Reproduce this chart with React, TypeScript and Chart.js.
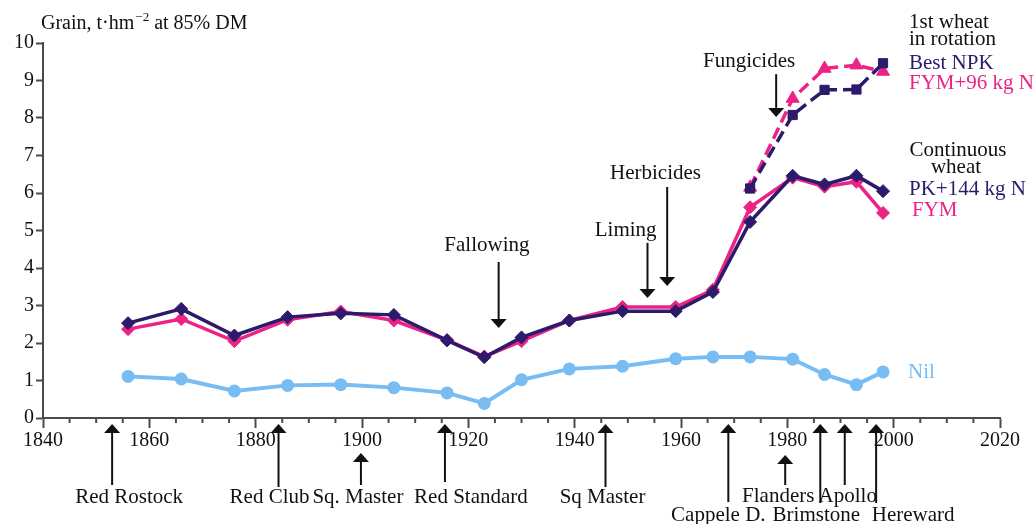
import React, { useEffect, useRef } from 'react';
import { Chart, registerables } from 'chart.js';
Chart.register(...registerables);

// ---------- data ----------
const years = [1856, 1866, 1876, 1886, 1896, 1906, 1916, 1923, 1930, 1939, 1949, 1959, 1966, 1973, 1981, 1987, 1993, 1998];
const pk144 = [2.53, 2.91, 2.2, 2.69, 2.79, 2.75, 2.07, 1.62, 2.15, 2.6, 2.85, 2.85, 3.36, 5.23, 6.46, 6.23, 6.46, 6.05];
const fym = [2.37, 2.64, 2.05, 2.62, 2.84, 2.6, 2.08, 1.64, 2.05, 2.6, 2.96, 2.96, 3.42, 5.62, 6.41, 6.17, 6.3, 5.47];
const nil = [1.11, 1.04, 0.72, 0.87, 0.89, 0.81, 0.67, 0.39, 1.02, 1.31, 1.38, 1.58, 1.63, 1.63, 1.57, 1.16, 0.89, 1.23];
const rotationYears = [1973, 1981, 1987, 1993, 1998];
const bestNPK = [6.12, 8.08, 8.75, 8.76, 9.46];
const fym96 = [6.15, 8.52, 9.32, 9.41, 9.24];

const managementEvents = ['Fallowing', 'Liming', 'Herbicides', 'Fungicides'];
const managementYears = [1925.7, 1953.7, 1957.4, 1977.9];

const varieties = ['Red Rostock', 'Red Club', 'Sq. Master', 'Red Standard', 'Sq Master', 'Cappele D.', 'Flanders', 'Brimstone', 'Apollo', 'Hereward'];
const varietyYears = [1853, 1884.3, 1899.8, 1915.6, 1945.8, 1968.9, 1979.6, 1986.2, 1990.8, 1996.7];

// ---------- layout / style ----------
const W = 1035;
const H = 524;
const FONT = '"Liberation Serif", "Times New Roman", serif';
const NAVY = '#2c1a6b';
const PINK = '#ec2385';
const BLUE = '#78bcf4';
const AXIS = '#4a4a4a';
const LABEL_SIZE = 21;

// top annotation geometry (value units): tail, tip, label x-year, label value
const mgmtLayout = [
  { tail: 4.16, tip: 2.4, lx: 1923.5, ly: 4.59 },
  { tail: 4.67, tip: 3.2, lx: 1949.6, ly: 4.99 },
  { tail: 6.16, tip: 3.52, lx: 1955.2, ly: 6.53 },
  { tail: 9.17, tip: 8.03, lx: 1972.8, ly: 9.52 },
];
// bottom annotation geometry (pixels below axis): tip, tail, label dx, label dy
const varLayout = [
  { tip: 6, tail: 67, dx: 17, ly: 79 },
  { tip: 6, tail: 69, dx: -9, ly: 79 },
  { tip: 35, tail: 67, dx: -3, ly: 79 },
  { tip: 6, tail: 64, dx: 26, ly: 79 },
  { tip: 6, tail: 69, dx: -3, ly: 79 },
  { tip: 6, tail: 84, dx: -10, ly: 97 },
  { tip: 37, tail: 67, dx: -7, ly: 78 },
  { tip: 6, tail: 85, dx: -4, ly: 97 },
  { tip: 6, tail: 67, dx: 3, ly: 78 },
  { tip: 6, tail: 85, dx: 37, ly: 97 },
];

function drawArrow(ctx: CanvasRenderingContext2D, x: number, tail: number, tip: number) {
  const dir = tip > tail ? 1 : -1;
  const hh = 9;
  const hw = 8;
  ctx.save();
  ctx.strokeStyle = '#111';
  ctx.fillStyle = '#111';
  ctx.lineWidth = 2;
  ctx.beginPath();
  ctx.moveTo(x, tail);
  ctx.lineTo(x, tip - dir * hh);
  ctx.stroke();
  ctx.beginPath();
  ctx.moveTo(x, tip);
  ctx.lineTo(x - hw, tip - dir * hh);
  ctx.lineTo(x + hw, tip - dir * hh);
  ctx.closePath();
  ctx.fill();
  ctx.restore();
}

const decorPlugin = {
  id: 'decor',
  afterDraw(chart: any) {
    const ctx: CanvasRenderingContext2D = chart.ctx;
    const xs = chart.scales.x;
    const ys = chart.scales.y;
    const area = chart.chartArea;
    ctx.save();
    // minor x ticks every 5 years
    ctx.strokeStyle = AXIS;
    ctx.lineWidth = 2;
    for (let yr = 1840; yr <= 2020; yr += 5) {
      if (yr % 20 === 0) continue;
      const px = xs.getPixelForValue(yr);
      ctx.beginPath();
      ctx.moveTo(px, area.bottom);
      ctx.lineTo(px, area.bottom + 5);
      ctx.stroke();
    }

    // title
    ctx.fillStyle = '#111';
    ctx.textBaseline = 'alphabetic';
    ctx.textAlign = 'left';
    ctx.font = `20px ${FONT}`;
    let tx = 41;
    const ty = 29;
    const p1 = 'Grain, t\u00b7hm';
    ctx.fillText(p1, tx, ty);
    tx += ctx.measureText(p1).width;
    ctx.font = `13px ${FONT}`;
    const sup = '\u22122';
    ctx.fillText(sup, tx + 1, ty - 8);
    tx += ctx.measureText(sup).width + 1;
    ctx.font = `20px ${FONT}`;
    ctx.fillText(' at 85% DM', tx, ty);

    // management annotations
    ctx.font = `${LABEL_SIZE}px ${FONT}`;
    ctx.textAlign = 'center';
    ctx.textBaseline = 'middle';
    managementEvents.forEach((name, i) => {
      const L = mgmtLayout[i];
      const px = xs.getPixelForValue(managementYears[i]);
      drawArrow(ctx, px, ys.getPixelForValue(L.tail), ys.getPixelForValue(L.tip));
      ctx.fillStyle = '#111';
      ctx.fillText(name, xs.getPixelForValue(L.lx), ys.getPixelForValue(L.ly));
    });

    // varieties
    varieties.forEach((name, i) => {
      const L = varLayout[i];
      const px = xs.getPixelForValue(varietyYears[i]);
      drawArrow(ctx, px, area.bottom + L.tail, area.bottom + L.tip);
      ctx.fillStyle = '#111';
      ctx.fillText(name, px + L.dx, area.bottom + L.ly);
    });

    // series labels on the right
    const rx = area.right - 91;
    const lab = (t: string, x: number, y: number, c: string, align: CanvasTextAlign = 'left') => {
      ctx.textAlign = align;
      ctx.fillStyle = c;
      ctx.fillText(t, x, y);
    };
    lab('1st wheat', rx, 22, '#111');
    lab('in rotation', rx, 39, '#111');
    lab('Best NPK', rx, 63, NAVY);
    lab('FYM+96 kg N', rx, 83, PINK);
    lab('Continuous', rx + 49, 150, '#111', 'center');
    lab('wheat', rx + 47, 167, '#111', 'center');
    lab('PK+144 kg N', rx, 189, NAVY);
    lab('FYM', rx + 3, 210, PINK);
    lab('Nil', rx - 1, 372, BLUE);
    ctx.restore();
  },
};

export default function App() {
  const ref = useRef<HTMLCanvasElement | null>(null);
  useEffect(() => {
    document.body.style.margin = '0';
    const canvas = ref.current;
    if (!canvas) return;
    const pts = (xsArr: number[], ysArr: number[]) => xsArr.map((x, i) => ({ x, y: ysArr[i] }));
    const common = { borderWidth: 3.5, pointBorderWidth: 1, pointRadius: 6.5 };
    const chart = new Chart(canvas, {
      type: 'line',
      data: {
        datasets: [
          {
            label: 'PK+144 kg N',
            data: pts(years, pk144),
            borderColor: NAVY,
            backgroundColor: NAVY,
            pointStyle: 'rectRot',
            ...common,
            order: 0,
          },
          {
            label: 'Best NPK',
            data: pts(rotationYears, bestNPK),
            borderColor: NAVY,
            backgroundColor: NAVY,
            borderDash: [12, 6],
            pointStyle: 'rect',
            ...common,
            order: 1,
          },
          {
            label: 'FYM',
            data: pts(years, fym),
            borderColor: PINK,
            backgroundColor: PINK,
            pointStyle: 'rectRot',
            ...common,
            order: 2,
          },
          {
            label: 'FYM+96 kg N',
            data: pts(rotationYears, fym96),
            borderColor: PINK,
            backgroundColor: PINK,
            borderDash: [12, 6],
            pointStyle: 'triangle',
            ...common,
            pointRadius: 7.5,
            order: 3,
          },
          {
            label: 'Nil',
            data: pts(years, nil),
            borderColor: BLUE,
            backgroundColor: BLUE,
            pointStyle: 'circle',
            ...common,
            borderWidth: 4,
            pointBorderWidth: 0,
            pointRadius: 6.5,
            order: 4,
          },
        ],
      },
      options: {
        animation: false,
        responsive: false,
        devicePixelRatio: 1,
        parsing: false as any,
        layout: { padding: { top: 43, right: 35, left: 0, bottom: 0 } },
        plugins: { legend: { display: false }, tooltip: { enabled: false } },
        elements: { line: { tension: 0 } },
        scales: {
          x: {
            type: 'linear',
            min: 1840,
            max: 2020,
            ticks: {
              stepSize: 20,
              color: '#111',
              font: { family: FONT, size: 20 },
              padding: 1,
              maxRotation: 0,
              callback: (v: any) => String(v),
            },
            grid: { drawOnChartArea: false, drawTicks: true, tickLength: 10, tickWidth: 2, tickColor: AXIS },
            border: { display: true, color: AXIS, width: 2 },
            afterFit: (s: any) => {
              s.height = H - 418;
            },
          },
          y: {
            type: 'linear',
            min: 0,
            max: 10,
            ticks: { stepSize: 1, color: '#111', font: { family: FONT, size: 20 }, padding: 2 },
            grid: { drawOnChartArea: false, drawTicks: true, tickLength: 7, tickWidth: 2, tickColor: AXIS },
            border: { display: true, color: AXIS, width: 2 },
            afterFit: (s: any) => {
              s.width = 43;
            },
          },
        },
      },
      plugins: [decorPlugin],
    });
    return () => chart.destroy();
  }, []);
  return (
    <div style={{ position: 'absolute', left: 0, top: 0, width: W, height: H, background: '#fff' }}>
      <canvas ref={ref} width={W} height={H} style={{ display: 'block', width: W, height: H }} />
    </div>
  );
}
